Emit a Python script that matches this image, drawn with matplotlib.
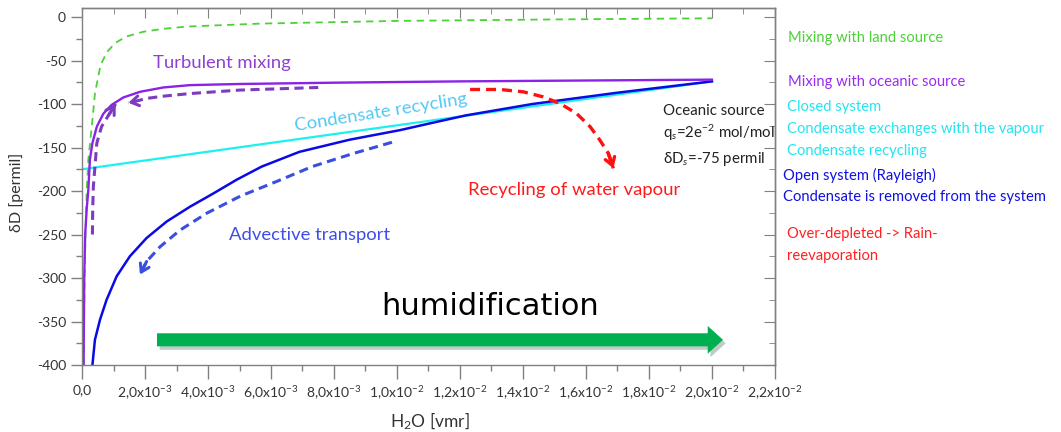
import numpy as np
import matplotlib
matplotlib.use("Agg")
import matplotlib.pyplot as plt
import matplotlib.patheffects as pe
from matplotlib.ticker import MultipleLocator, NullFormatter

plt.rcParams['font.family'] = ['Lato', 'DejaVu Sans']
plt.rcParams['mathtext.fontset'] = 'custom'
plt.rcParams['mathtext.rm'] = 'Lato'
plt.rcParams['mathtext.it'] = 'Lato:italic'
plt.rcParams['axes.unicode_minus'] = False

# ---- data (x in units of 1e-3 vmr, y in permil) ----
land_x = [0.05, 0.08, 0.11, 0.15, 0.2, 0.31, 0.41, 0.59, 0.8, 1.05, 1.4, 1.94, 2.6, 3.33, 5.65, 10.0, 15.0, 20.0]
land_y = [-400, -300, -250, -199, -164, -126, -88, -55, -40, -30, -22.5, -17, -13.5, -11, -7.6, -4.5, -2.8, -1.5]

ocean_x = [0.05, 0.07, 0.1, 0.15, 0.2, 0.25, 0.33, 0.47, 0.68, 0.94, 1.31, 1.84, 2.58, 3.43, 5.0, 8.0, 12.0, 16.0, 20.0]
ocean_y = [-400, -300, -250, -220, -199, -164, -145, -126, -111, -101, -92.5, -86, -81, -78.3, -77, -75.5, -74, -73, -72]

closed_x = [0.0, 10.1, 20.0]
closed_y = [-175, -124, -74]

rayleigh_x = [0.33, 0.41, 0.57, 0.78, 1.10, 1.52, 2.05, 2.69, 3.43, 4.16, 4.91, 5.7, 6.9, 8.5, 10.1, 11.2, 12.2, 14.3, 17.0, 20.0]
rayleigh_y = [-400, -371, -348, -325, -298, -275, -254, -235, -218, -203, -187, -172, -155, -141, -130, -121, -113, -100, -87, -74]

# process arrows (dashed paths)
turb_h_x = [7.5, 5.0, 3.43, 2.58, 2.05, 1.63, 1.47]
turb_h_y = [-81, -84, -88, -91, -93.6, -97.5, -98.6]
turb_v_x = [0.33, 0.34, 0.36, 0.47, 0.62, 0.84, 1.07]
turb_v_y = [-250, -220, -195, -145, -126, -113, -100]
adv_x = [9.84, 8.6, 7.3, 6.18, 5.02, 3.96, 3.11, 2.48, 2.05, 1.84]
adv_y = [-144, -157, -172, -189, -206, -225.5, -245, -264, -281, -296]
recyc_x = [12.32, 13.27, 14.01, 14.64, 15.17, 15.70, 16.13, 16.44, 16.71, 16.87]
recyc_y = [-83.3, -83.3, -86, -91.8, -99.3, -110.8, -126, -141.4, -156.7, -173.9]

hum_x = [2.38, 20.35]
hum_y = [-371, -371]

xticks = np.arange(0, 23, 2) * 1e-3
xtick_labels = ['0,0', r'2,0x10$^{-3}$', r'4,0x10$^{-3}$', r'6,0x10$^{-3}$', r'8,0x10$^{-3}$',
                r'1,0x10$^{-2}$', r'1,2x10$^{-2}$', r'1,4x10$^{-2}$', r'1,6x10$^{-2}$',
                r'1,8x10$^{-2}$', r'2,0x10$^{-2}$', r'2,2x10$^{-2}$']
yticks = np.arange(-400, 1, 50)

def sx(v):
    return np.array(v) * 1e-3

fig = plt.figure(figsize=(10.61, 4.32), dpi=100)
ax = fig.add_axes([0.0773, 0.155, 0.6531, 0.8258])

ax.plot(sx(land_x), land_y, color='#4CD137', lw=1.3, dashes=(4, 3))
ax.plot(sx(closed_x), closed_y, color='#1CF0F0', lw=1.6)
ax.plot(sx(rayleigh_x), rayleigh_y, color='#0A0AE6', lw=1.8)
ax.plot(sx(ocean_x), ocean_y, color='#8A22E8', lw=1.7)

def dashed_arrow(xs, ys, color, lw):
    xs = sx(xs)
    ax.plot(xs, ys, color=color, lw=lw, dashes=(3, 1.8))
    ax.annotate('', xy=(xs[-1], ys[-1]), xytext=(xs[-2], ys[-2]),
                arrowprops=dict(arrowstyle='->,head_length=0.55,head_width=0.35',
                                color=color, lw=lw, shrinkA=0, shrinkB=0))

dashed_arrow(turb_h_x, turb_h_y, '#7D3CC0', 2.2)
dashed_arrow(turb_v_x, turb_v_y, '#7D3CC0', 2.2)
dashed_arrow(adv_x, adv_y, '#3A4FE0', 2.2)
dashed_arrow(recyc_x, recyc_y, '#FF1010', 2.4)

hum = ax.annotate('', xy=(sx(hum_x)[1], hum_y[1]), xytext=(sx(hum_x)[0], hum_y[0]),
                  arrowprops=dict(arrowstyle='simple,head_length=1.1,head_width=2.0,tail_width=0.94',
                                  fc='#00B050', ec='none', mutation_scale=10, shrinkA=0, shrinkB=0))
hum.arrow_patch.set_path_effects([pe.SimplePatchShadow(offset=(2, -2.5), alpha=0.25), pe.Normal()])

# in-plot labels
ax.text(2.25e-3, -53, 'Turbulent mixing', color='#9040D0', fontsize=13.3, va='center')
ax.text(9.49e-3, -110, 'Condensate recycling', color='#55C8F5', fontsize=13.3,
        ha='center', va='center', rotation=9, rotation_mode='anchor')
ax.text(4.67e-3, -250, 'Advective transport', color='#3D4FE8', fontsize=13.3, va='center')
ax.text(12.25e-3, -199, 'Recycling of water vapour', color='#FF1A1A', fontsize=13.3, va='center')
ax.text(12.95e-3, -333, 'humidification', color='black', fontsize=22, ha='center', va='center',
        family=['DejaVu Sans'])
ax.text(18.44e-3, -108, 'Oceanic source', color='#222222', fontsize=10.8, va='center')
ax.text(18.44e-3, -133.5, r'q$_s$=2e$^{-2}$ mol/mol', color='#222222', fontsize=10.8, va='center')
ax.text(18.44e-3, -163, r'δD$_s$=-75 permil', color='#222222', fontsize=10.8, va='center')

# legend-like text on the right
right = [
    (788, 38, 'Mixing with land source', '#4CD137'),
    (788, 82, 'Mixing with oceanic source', '#9A2BF0'),
    (787, 107, 'Closed system', '#22E5F0'),
    (787, 129, 'Condensate exchanges with the vapour', '#22E5F0'),
    (787, 151, 'Condensate recycling', '#22E5F0'),
    (783, 175, 'Open system (Rayleigh)', '#1010E0'),
    (783, 197, 'Condensate is removed from the system', '#1010E0'),
    (787, 234, 'Over-depleted -> Rain-', '#FF2020'),
    (787, 256, 'reevaporation', '#FF2020'),
]
for px, py, s, c in right:
    fig.text(px / 1061, 1 - py / 432, s, color=c, fontsize=10.6, va='center')

ax.set_xlim(0, 0.022)
ax.set_ylim(-400, 10)
ax.set_xticks(xticks)
ax.set_xticklabels(xtick_labels)
ax.set_yticks(yticks)
ax.xaxis.set_minor_locator(MultipleLocator(1e-3))
ax.yaxis.set_minor_locator(MultipleLocator(25))
ax.tick_params(which='major', direction='out', length=8, width=1, color='#808080',
               labelsize=10, labelcolor='#333333')
ax.tick_params(which='minor', direction='out', length=4.5, width=1, color='#808080')
ax.tick_params(axis='x', which='major', length=10, pad=4)

secx = ax.secondary_xaxis('top')
secx.set_xticks(xticks)
secx.xaxis.set_minor_locator(MultipleLocator(1e-3))
secx.xaxis.set_major_formatter(NullFormatter())
secx.tick_params(which='major', direction='in', length=7, color='#808080')
secx.tick_params(which='minor', direction='in', length=4.5, color='#808080')

secy = ax.secondary_yaxis('right')
secy.set_yticks(yticks)
secy.yaxis.set_minor_locator(MultipleLocator(25))
secy.yaxis.set_major_formatter(NullFormatter())
secy.tick_params(which='major', direction='in', length=8, color='#808080')
secy.tick_params(which='minor', direction='in', length=4.5, color='#808080')

for sp in list(ax.spines.values()) + list(secx.spines.values()) + list(secy.spines.values()):
    sp.set_color('#808080')
    sp.set_linewidth(1)

ax.set_xlabel(r'H$_2$O [vmr]', fontsize=12.5, color='#333333')
ax.xaxis.set_label_coords(0.502, -0.128)
ax.set_ylabel('δD [permil]', fontsize=11.5, color='#333333')
ax.yaxis.set_label_coords(-0.084, 0.485)

fig.savefig('out.png', dpi=100)
